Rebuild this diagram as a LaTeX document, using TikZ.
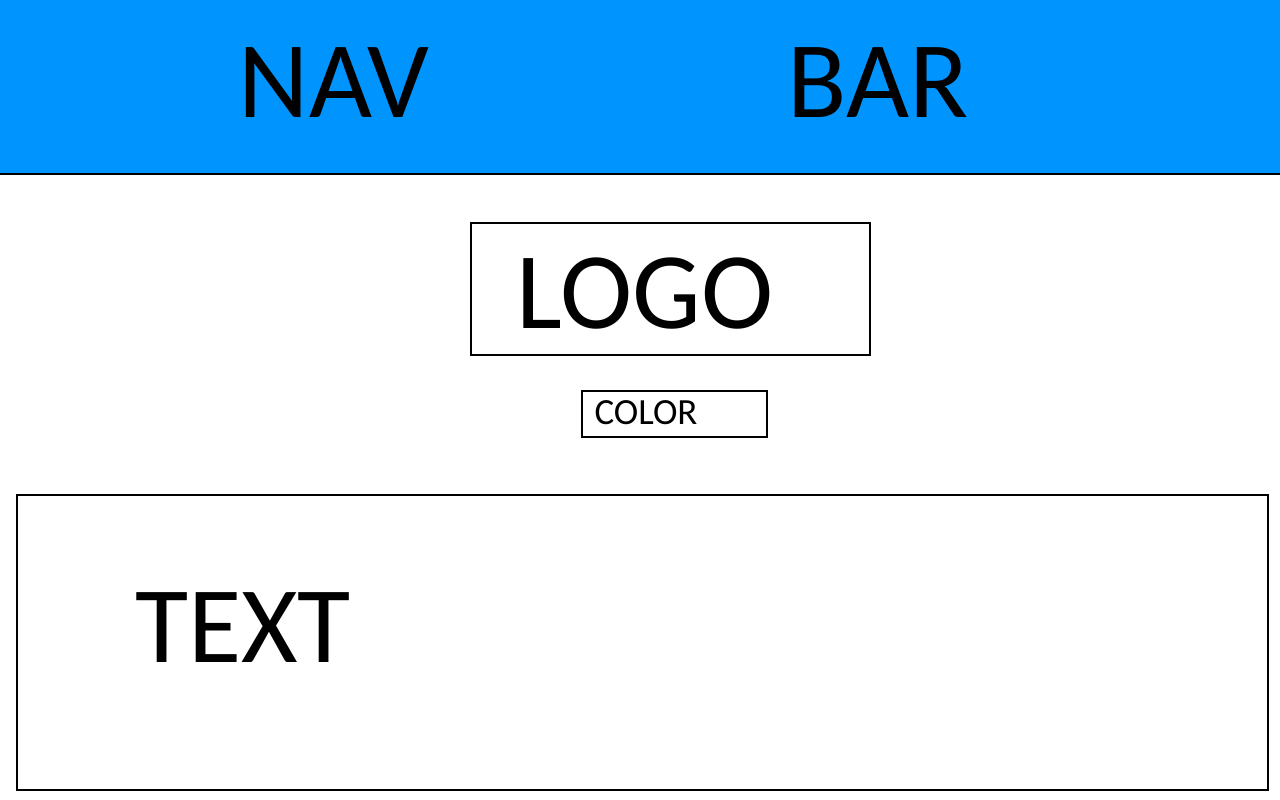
\documentclass[tikz,border=0pt]{standalone}
\usepackage{fontspec}
\setmainfont{Carlito}
\usepackage{tikz}
\definecolor{navblue}{HTML}{0094FF}

\tikzset{
  frame/.style={draw=black, line width=1.1pt, fill=white},
  bigword/.style={inner sep=0pt, anchor=base, font=\fontsize{62}{62}\selectfont},
  smallword/.style={inner sep=0pt, anchor=base, font=\fontsize{21}{21}\selectfont}
}

\begin{document}
\begin{tikzpicture}[x=0.02cm, y=-0.02cm]
        \useasboundingbox (0,0) rectangle (1280,800);
        \fill[white] (0,0) rectangle (1280,800);

        % top bar
        \fill[navblue] (0,0) rectangle (1280,174);
        \coordinate (barleft) at (0,174);
        \coordinate (barright) at (1280,174);
        \draw[line width=1.1pt] (barleft) -- (barright);
        \node[bigword] (nav) at (334,118) {NAV};
        \node[bigword] (bar) at (878,118) {BAR};

        % logo
        \draw[frame] (471,223) rectangle (870,355);
        \node[bigword] (logo) at (645,328) {LOGO};

        % color
        \draw[frame] (582,391) rectangle (767,437);
        \node[smallword] (color) at (646,424) {COLOR};

        % text
        \draw[frame] (17,495) rectangle (1268,790);
        \node[bigword] (text) at (243,662) {TEXT};
    \end{tikzpicture}
\end{document}
